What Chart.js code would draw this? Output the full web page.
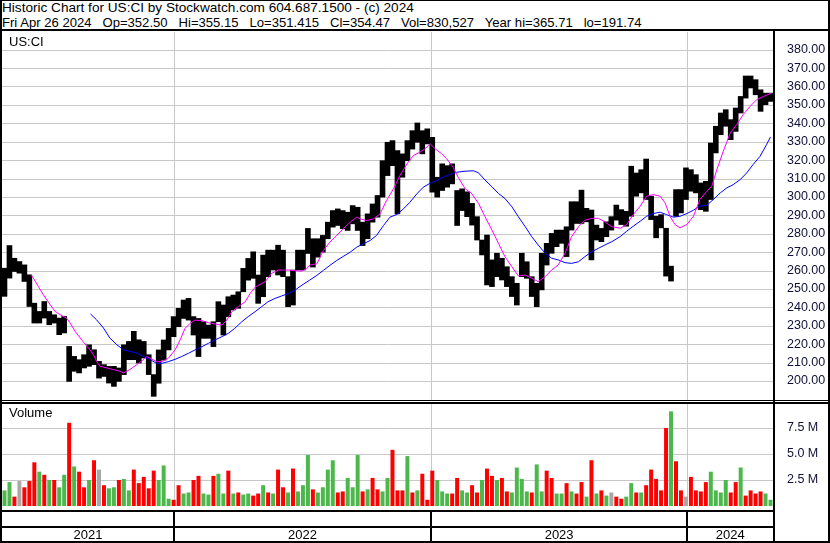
<!DOCTYPE html>
<html>
<head>
<meta charset="utf-8">
<script src="https://cdn.jsdelivr.net/npm/chart.js@4.4.1/dist/chart.umd.min.js"></script>
<style>
  body { margin: 0; background: #fff; }
  #wrap { position: relative; width: 830px; height: 543px; overflow: hidden; font-family: "Liberation Sans", Arial, sans-serif; }
  .txt { position: absolute; font-size: 13px; color: #000; white-space: pre; line-height: 15px; }
  .hdr1 { font-size: 13.6px; }
  .hdr2 { font-size: 13.1px; }
  .ln { position: absolute; background: #000; }
  canvas { position: absolute; left: 0; }
</style>
</head>
<body>
<div id="wrap">
  <div class="txt hdr1" style="left:2px;top:0px">Historic Chart for US:CI by Stockwatch.com 604.687.1500 - (c) 2024</div>
  <div class="txt hdr2" style="left:2px;top:15px">Fri Apr 26 2024   Op=352.50   Hi=355.15   Lo=351.415   Cl=354.47   Vol=830,527   Year hi=365.71   lo=191.74</div>
  <canvas id="price" style="top:30px" width="830" height="370"></canvas>
  <canvas id="vol" style="top:400px" width="830" height="143"></canvas>
  <div class="txt" style="left:9px;top:34px">US:CI</div>
  <div class="txt" style="left:9px;top:405px">Volume</div>
  <!-- frame -->
  <div class="ln" style="left:0;top:0;width:830px;height:1px"></div>
  <div class="ln" style="left:0;top:29px;width:830px;height:2px"></div>
  <div class="ln" style="left:0;top:0;width:2px;height:543px"></div>
  <div class="ln" style="left:828px;top:0;width:2px;height:543px"></div>
  <div class="ln" style="left:0;top:541px;width:830px;height:2px"></div>
  <div class="ln" style="left:773px;top:30px;width:2px;height:513px"></div>
  <div class="ln" style="left:0;top:400px;width:830px;height:1px"></div>
  <div class="ln" style="left:0;top:402px;width:830px;height:2px"></div>
</div>
<script>
// weekly bars, one per ~5 trading days, oldest first (x = week number)
const priceHigh = [261.3,273.6,266.7,264.9,263.1,257.7,242.3,237.8,243.2,237.8,236,234.2,235.1,218.8,213.4,211.6,214.3,219.7,217,210.7,
  208.9,208,208,207.1,219.7,221.5,227,222.4,221.5,214.3,203.5,216.9,222.3,228.6,235,239.5,244,244.9,235,234,
  232.2,230.4,232.2,243.1,241.3,245.8,246.7,248.5,261.2,266.6,270.2,257.6,268.4,271.1,271.1,273.8,271.1,256.7,260.3,271.1,
  271.1,282.9,277.3,277.3,279.1,286.3,292.6,293.5,292.6,291.7,295.3,294.4,286.3,290.8,296.2,300.8,319.7,329.7,330.6,325.2,
  323.4,330.6,336,340.2,336,337,332.4,310.7,318,317,318,303.5,304.4,302.8,296.5,289.3,276.6,279.3,265.8,269.4,
  266.7,262.1,256.7,253.1,269.4,264.8,256.7,253.1,269.4,274.8,280.2,282,282,283.8,297.4,297.4,303.7,293.8,292.9,284.7,
  282.9,286.5,289.3,295.6,293.1,292.2,316.7,313,314.8,320.6,300.4,289.5,290.4,283,262.4,304,304,315.8,314.8,312.1,
  307.6,308.5,329.3,338.4,345.6,347.4,342,348.3,354.6,365.7,365.7,363.7,358.2,356.4,356.4];
const priceLow = [246,255.9,259.5,258.6,254.1,240.5,231.5,231.5,234.2,230.6,231.5,225.2,226.1,199.8,205.3,204.4,207.1,208,208.9,201.6,
  202.5,198.9,197.1,199.8,203.5,211.6,211.6,209.8,212.5,203.5,191.7,198.8,211.4,216.9,224.1,229.5,234,233.1,225,213.3,
  223.2,223.2,218.7,232.2,225,235,238.6,239.5,248.5,254.8,255.8,242.2,245.8,256.7,260.3,257.6,256.7,240.4,241.3,260.3,
  260.3,269.3,261.9,267.3,270,277.3,283.6,284.5,282.7,281.8,285.4,281.8,273.6,277.3,286.3,289,299.9,311.6,317,290.8,
  310.7,319.7,326,329.7,323.4,328.8,302.6,299.9,303.5,305.3,307.1,284.5,292.6,289.3,284.7,276.6,268.5,252.2,251.3,256.7,
  254.9,251.3,245.9,241.3,256.7,255.8,245.9,240.4,249.5,263,269.4,273,274.8,267.6,282,285.6,285.6,286.5,265.8,276.6,
  275.7,278.4,282,287.4,285,284.1,289.5,300.4,302.2,298.6,287.7,277.8,283.2,257,254.3,289.5,291.3,298.6,303.1,302.2,
  293.1,292.2,298.6,323.9,333.8,338.4,331.1,335.6,345.6,353.7,359.2,355.5,346.5,350.1,351.9];

// moving averages (week number, price)
const magX = [5.8,6.3,7.3,8.3,9.7,10.7,11.7,13.0,13.7,14.7,16.0,17.4,18.4,19.0,19.7,21.1,22.4,23.7,24.4,25.7,
  27.1,28.4,29.1,30.1,31.1,32.1,33.4,34.8,35.8,36.8,37.8,38.8,40.2,41.5,42.8,44.2,45.2,46.2,47.5,48.9,
  49.9,50.9,52.2,52.9,54.2,55.6,56.6,57.6,58.9,60.3,61.3,61.9,63.3,64.6,65.9,67.3,68.6,70.0,71.3,72.0,
  73.3,74.7,76.0,77.3,78.7,80.0,81.4,82.7,84.0,85.0,86.1,87.1,88.4,89.4,90.7,91.7,93.1,94.4,95.8,97.1,
  98.5,99.8,101.1,102.5,103.8,105.2,106.5,107.8,109.2,110.5,111.8,113.2,114.5,115.9,117.2,118.6,119.9,121.2,122.6,124.3,
  125.6,126.9,128.3,129.6,130.9,132.3,133.3,134.3,135.3,136.3,137.7,139.0,140.3,141.7,142.7,143.7,145.0,146.4,147.7,149.0,
  150.4,151.7,153.1,154.7];
const magY = [257.7,255.9,251.4,246.9,241.4,237.8,236,234.2,231.5,227,222.4,217.9,214.3,210.7,208,207.1,206.2,205.3,204.4,206.2,
  208.9,211.6,213.3,212,210.5,210.5,212.3,216.9,222.3,228.6,231.3,233.1,232.8,231.7,231,230.4,233.1,237.7,240.4,243.1,
  247.6,251,253,253.9,258.5,260.3,260.3,260.3,259.9,259.7,261.2,263,263.7,270.9,275.4,279.1,282.7,286.3,289,288.1,
  287.2,288.1,290.8,298,304.4,311.6,317.9,322.5,324.3,326.1,328.8,326.1,323.4,320.7,316.1,310.7,304.5,301.9,296.5,289.3,
  282,274.8,267.6,262.1,257.1,257.6,255.8,254,256.7,260.3,263,269.4,278.4,283.8,287.4,288.4,288.4,286.5,283.8,283,
  285,290.4,295,300.4,301.3,300.4,296.8,289.5,285,283.2,285,289.5,298.6,303.1,305.8,314.8,324.8,334.7,339.3,344.7,
  349.2,352.8,354.6,356.4];
const blueX = [17.8,19.0,20.4,21.7,23.1,24.4,25.7,27.1,28.4,29.8,31.1,32.1,33.4,34.8,36.1,37.5,38.8,40.2,41.5,42.8,
  44.2,45.5,46.8,48.2,49.5,50.9,52.2,53.5,54.9,56.2,57.6,58.9,60.3,61.9,63.3,64.6,65.9,67.3,68.6,70.0,
  71.3,72.6,74.0,75.3,76.7,78.0,79.4,80.7,82.0,83.4,84.7,86.1,87.4,88.7,90.1,91.4,93.1,94.8,95.8,97.1,
  98.5,99.8,101.1,102.5,103.8,105.2,106.5,107.8,109.2,110.5,111.8,113.2,114.5,115.9,117.2,118.6,119.9,121.2,122.6,124.3,
  125.6,126.9,128.3,129.6,130.9,132.3,133.6,135.0,136.3,137.7,139.0,140.3,141.7,143.0,144.4,145.7,147.0,148.4,149.7,151.0,
  152.4,153.7,154.5];
const blueY = [236.4,233.3,228.8,223.3,219.7,217,216.1,215.2,213.4,211.6,209.6,209.6,210.5,211.8,213.3,215.1,216.9,218.7,220.5,222.3,
  224.1,225.9,228.6,232.2,235,237.7,240.4,243.1,244.9,246.2,247.6,249.4,252.1,254.9,257.4,260.1,262.8,265.5,267.7,270,
  272.7,274.5,276.3,279.1,284.5,289,290.5,293.5,297.1,301.7,305.3,307.5,308.9,310.7,312.2,313.4,314,314.2,313.1,309.2,
  305.5,301.9,299.2,294.7,289.3,283.8,278.4,273.9,269.4,266.7,265.8,264.3,263.9,264.8,267.6,270.3,272.1,273.9,275.7,278.5,
  281.4,284.1,286.8,289.5,291,291.7,290.4,289,289.5,291,292.8,295,295.5,298.6,302.2,304.9,306.7,309.4,313,317.6,
  322.1,328.4,332.6];

// volume in millions, and direction of the close (1 up, -1 down, 0 unchanged)
const volume = [1.5,2.3,0.9,2.4,1.8,2.4,4.2,3.3,3.0,2.5,2.5,1.8,3.0,8.0,3.8,3.3,1.8,2.5,4.4,3.5,
  2.0,1.7,1.8,2.5,2.6,1.5,3.5,2.2,2.8,1.7,3.4,2.5,3.9,0.7,0.6,2.0,1.2,1.3,2.5,2.9,
  1.2,1.1,2.9,3.1,1.2,3.4,1.2,1.3,1.1,1.2,1.0,1.2,2.0,1.3,1.2,3.5,1.8,1.3,3.6,1.4,
  2.0,4.9,1.6,1.3,1.8,3.5,4.4,1.3,1.4,2.7,1.8,4.9,1.4,1.6,2.7,1.6,1.4,2.7,5.4,1.5,
  1.5,4.8,1.3,1.5,3.1,0.6,3.4,2.5,1.4,1.2,1.2,2.7,1.5,1.3,2.0,1.3,2.5,3.6,2.9,2.5,
  2.7,1.4,1.3,3.7,2.6,1.4,1.3,4.0,1.4,3.4,2.7,1.2,1.2,2.2,1.4,1.2,2.3,0.9,4.4,1.2,
  1.5,1.0,1.3,0.9,0.7,0.9,2.2,1.3,1.3,2.0,3.5,2.6,1.5,7.5,9.1,4.3,1.5,0.9,2.8,1.5,
  1.4,2.3,3.3,1.5,1.3,2.5,1.3,2.3,3.7,1.0,1.5,1.2,1.4,1.2,0.6];
const volDir = [1,1,-1,0,-1,-1,-1,1,-1,1,-1,1,1,-1,1,-1,-1,1,-1,0,
  -1,1,1,-1,1,1,-1,-1,-1,-1,-1,1,1,1,-1,-1,1,1,-1,-1,
  1,1,-1,1,1,-1,1,-1,1,1,-1,-1,1,-1,1,-1,-1,1,-1,1,
  1,1,-1,1,1,1,1,-1,-1,1,1,1,-1,1,-1,-1,1,1,-1,-1,
  -1,1,-1,1,-1,-1,-1,1,1,1,-1,-1,1,1,-1,-1,1,-1,-1,1,
  -1,-1,1,1,1,1,-1,1,1,-1,-1,1,1,-1,1,-1,-1,1,-1,1,
  -1,1,0,-1,-1,1,1,-1,1,-1,-1,-1,-1,-1,1,-1,-1,0,-1,-1,
  -1,-1,1,1,1,1,-1,-1,1,-1,-1,-1,-1,1,1];

const yearStarts = [34.6, 86.2, 137.8];
const yearLabels = ['2021', '2022', '2023', '2024'];
const lastWeek = 155;
const priceTicks = [200,210,220,230,240,250,260,270,280,290,300,310,320,330,340,350,360,370,380];
const volTicks = [2.5, 5.0, 7.5];

const FONT = { family: '"Liberation Sans", Arial, sans-serif', size: 12.5 };
const GRID = '#c8c8c8';

// plain grey grid: one line per y tick and one per year start
const gridLines = {
    id: 'gridLines',
    beforeDatasetsDraw(chart) {
        const ctx = chart.ctx;
        const a = chart.chartArea;
        const xs = chart.scales.x, ys = chart.scales.y;
        ctx.save();
        ctx.strokeStyle = GRID;
        ctx.lineWidth = 1;
        ctx.beginPath();
        ys.ticks.forEach(t => {
            const py = Math.round(ys.getPixelForValue(t.value)) + 0.5;
            ctx.moveTo(a.left, py);
            ctx.lineTo(a.right, py);
        });
        yearStarts.forEach(v => {
            const px = Math.round(xs.getPixelForValue(v)) + 0.5;
            ctx.moveTo(px, a.top);
            ctx.lineTo(px, a.bottom);
        });
        ctx.stroke();
        ctx.restore();
    }
};

function xAxis() {
    return {
        type: 'linear', min: 0, max: lastWeek, offset: false,
        ticks: { display: false },
        grid: { display: false },
        border: { display: false },
        afterFit: s => { s.height = 0; s.paddingLeft = 0; s.paddingRight = 0; }
    };
}

function yAxis(min, max, ticks, fmt) {
    return {
        position: 'right', min: min, max: max,
        afterBuildTicks: s => { s.ticks = ticks.map(v => ({ value: v })); },
        afterFit: s => { s.width = 57; s.paddingTop = 0; s.paddingBottom = 0; },
        ticks: { padding: 6, color: '#10103a', font: FONT, callback: fmt },
        grid: { display: false },
        border: { display: false }
    };
}

// price panel
new Chart(document.getElementById('price'), {
    type: 'bar',
    data: {
        datasets: [
            {
                type: 'line',
                data: magX.map((x, i) => ({ x: x, y: magY[i] })),
                borderColor: '#ff00ff', borderWidth: 1, pointRadius: 0
            },
            {
                type: 'line',
                data: blueX.map((x, i) => ({ x: x, y: blueY[i] })),
                borderColor: '#0000ff', borderWidth: 1, pointRadius: 0
            },
            {
                type: 'bar',
                data: priceHigh.map((h, i) => ({ x: i + 0.5, y: [priceLow[i], h] })),
                backgroundColor: '#000',
                barPercentage: 1, categoryPercentage: 1
            }
        ]
    },
    options: {
        responsive: false, animation: false, devicePixelRatio: 1,
        layout: { padding: { left: 2, top: 2, bottom: 0, right: 0 } },
        plugins: { legend: { display: false }, tooltip: { enabled: false } },
        scales: {
            x: xAxis(),
            y: yAxis(189.7, 389.6, priceTicks, v => v.toFixed(2))
        }
    },
    plugins: [gridLines]
});

// year strip under the volume panel
const yearStrip = {
    id: 'yearStrip',
    afterDraw(chart) {
        const ctx = chart.ctx;
        const xs = chart.scales.x;
        const a = chart.chartArea;
        const edges = [0].concat(yearStarts, [lastWeek]).map(v => xs.getPixelForValue(v));
        ctx.save();
        ctx.fillStyle = '#000';
        ctx.fillRect(0, a.bottom + 4, a.right, 2);
        ctx.fillRect(0, a.bottom + 20, a.right, 2);
        yearStarts.forEach(v => {
            const px = Math.round(xs.getPixelForValue(v));
            ctx.fillRect(px - 1, a.bottom + 4, 2, 40);
        });
        ctx.font = '13px "Liberation Sans", Arial, sans-serif';
        ctx.textAlign = 'center';
        ctx.textBaseline = 'middle';
        yearLabels.forEach((t, i) => {
            ctx.fillText(t, (edges[i] + edges[i + 1]) / 2, a.bottom + 29);
        });
        ctx.restore();
    }
};

// volume panel
new Chart(document.getElementById('vol'), {
    type: 'bar',
    data: {
        datasets: [{
            data: volume.map((v, i) => ({ x: i + 0.5, y: v })),
            backgroundColor: volDir.map(d => d > 0 ? '#4cb84c' : (d < 0 ? '#ff0000' : '#a8a8a8')),
            barPercentage: 1, categoryPercentage: 0.8
        }]
    },
    options: {
        responsive: false, animation: false, devicePixelRatio: 1,
        layout: { padding: { left: 2, top: 2, bottom: 37, right: 0 } },
        plugins: { legend: { display: false }, tooltip: { enabled: false } },
        scales: {
            x: xAxis(),
            y: yAxis(0, 10, volTicks, v => v.toFixed(1) + ' M')
        }
    },
    plugins: [gridLines, yearStrip]
});
</script>
</body>
</html>
